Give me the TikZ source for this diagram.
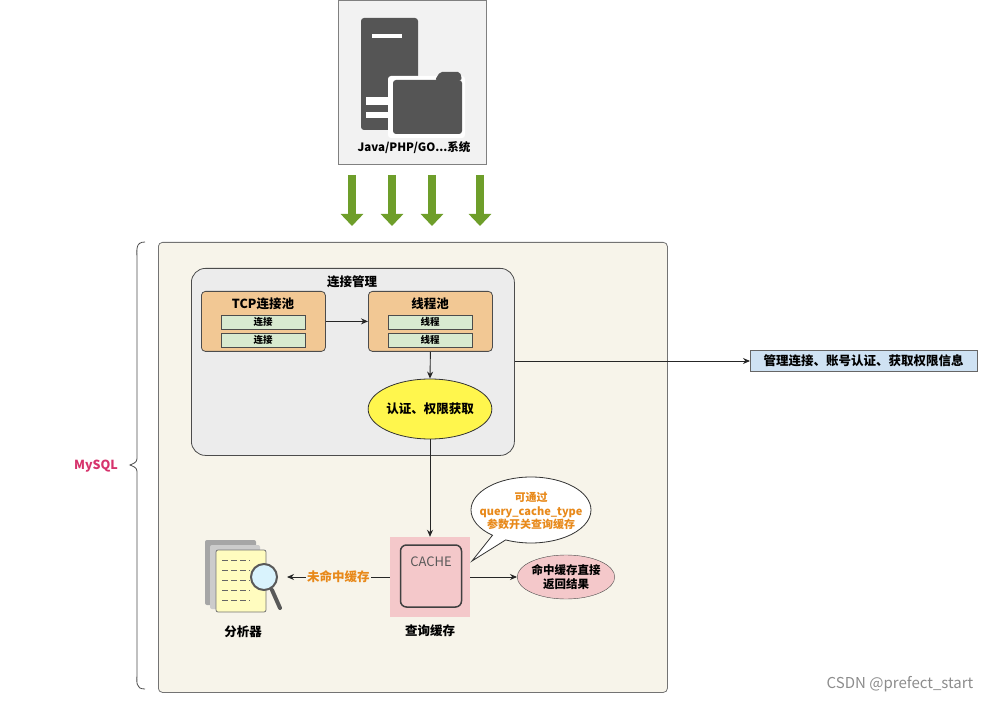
\documentclass[tikz,border=0pt]{standalone}
\usepackage{fontspec}
\setmainfont{Noto Sans CJK SC}
\usetikzlibrary{shapes.geometric,shapes.callouts,arrows.meta}
\definecolor{cream}{HTML}{F7F4EA}
\definecolor{grayin}{HTML}{ECECEC}
\definecolor{orangebox}{HTML}{F2C894}
\definecolor{greenin}{HTML}{D8EAD0}
\definecolor{arrgreen}{HTML}{6E9E2A}
\definecolor{pinkc}{HTML}{F4C8CA}
\definecolor{icon}{HTML}{555555}
\definecolor{lblue}{HTML}{CFE2F3}
\definecolor{orangetxt}{HTML}{E8891A}
\definecolor{mysql}{HTML}{D6336C}
\tikzset{
 bx/.style={draw=black!70,line width=0.8pt,rounded corners=4pt},
 t/.style={font=\bfseries\fontsize{12.5}{14}\selectfont},
 ts/.style={font=\bfseries\fontsize{9.5}{10}\selectfont},
 con/.style={-{Stealth[length=7pt,width=6pt]},line width=0.9pt,black!85},
 garr/.style={arrgreen,line width=8pt,-{Triangle[length=12pt,width=22pt]}},
}
\begin{document}
\begin{tikzpicture}[x=1pt,y=-1pt]
\useasboundingbox (0,0) rectangle (1007,703);
% top system box
\node[draw=black!50,fill=black!5,minimum width=148pt,minimum height=164pt,anchor=north west,inner sep=0] (sys) at (338,0) {};
\fill[icon,rounded corners=3pt] (361,18) rectangle (418,130);
\fill[white] (372,34) rectangle (402,38);
\fill[white] (366,97) rectangle (395,105);
\fill[white] (366,112) rectangle (395,118);
\fill[white,rounded corners=3pt] (388,76) rectangle (465,138);
\fill[icon,rounded corners=2pt] (440,72) -- (460,72) -- (462,80) -- (435,80) -- cycle;
\fill[icon,rounded corners=3pt] (393,80) rectangle (462,134);
\node[font=\bfseries\fontsize{11.5}{13}\selectfont] (syst) at (414,148) {Java/PHP/GO...系统};
% green arrows
\foreach \x/\n in {352/a,392/b,432/c,480/d}{
 \coordinate (g\n1) at (\x,175); \coordinate (g\n2) at (\x,226);
 \draw[garr] (g\n1) -- (g\n2);}
% MySQL box
\node[draw=black!55,fill=cream,rounded corners=4pt,line width=0.8pt,minimum width=509pt,minimum height=450pt,anchor=north west,inner sep=0] (mysqlbox) at (158,242) {};
\draw[black!70,line width=0.8pt] (145,242) .. controls (135,242) and (137,250) .. (137,260) -- (137,455) .. controls (137,462) .. (130,465) .. controls (137,468) .. (137,475) -- (137,672) .. controls (137,682) and (135,689) .. (145,689);
\node[font=\bfseries\fontsize{12.5}{14}\selectfont,text=mysql] (mysql) at (96,466) {MySQL};
% connection management
\node[bx,fill=grayin,rounded corners=14pt,minimum width=323pt,minimum height=187pt,anchor=north west,inner sep=0] (cm) at (191,268) {};
\node[t] (cmt) at (352,282) {连接管理};
\node[bx,fill=orangebox,minimum width=124pt,minimum height=60pt,anchor=north west,inner sep=0] (tcp) at (201,291) {};
\node[t] at (263,304) {TCP连接池};
\node[draw=black!70,fill=greenin,minimum width=84pt,minimum height=14pt,inner sep=0,ts] (c1) at (263,322) {连接};
\node[draw=black!70,fill=greenin,minimum width=84pt,minimum height=14pt,inner sep=0,ts] (c2) at (263,340) {连接};
\node[bx,fill=orangebox,minimum width=124pt,minimum height=60pt,anchor=north west,inner sep=0] (thr) at (368,291) {};
\node[t] at (430,304) {线程池};
\node[draw=black!70,fill=greenin,minimum width=84pt,minimum height=14pt,inner sep=0,ts] (t1) at (430,322) {线程};
\node[draw=black!70,fill=greenin,minimum width=84pt,minimum height=14pt,inner sep=0,ts] (t2) at (430,340) {线程};
\draw[con] (tcp.east) -- (thr.west);
\node[ellipse,draw=black!80,line width=0.8pt,fill=yellow!70!white,minimum width=96pt,minimum height=60pt,inner sep=0,t] (auth) at (430,409) {认证、权限获取};
\draw[con] (thr.south) -- (auth.north);
\node[draw=black!60,fill=lblue,minimum width=227pt,minimum height=21pt,inner sep=0,t,anchor=west] (info) at (750,361) {管理连接、账号认证、获取权限信息};
\draw[con] (cm.east |- info) -- (info.west);
% cache
\node[fill=pinkc,minimum width=80pt,minimum height=80pt,inner sep=0] (cache) at (430,577) {};
\node[draw=black!75,line width=1.5pt,rounded corners=6pt,minimum width=61pt,minimum height=62pt,inner sep=0] (cin) at (431,576) {};
\node[font=\fontsize{13}{15}\selectfont,text=black!65] at (431,562) {CACHE};
\node[t] (cachel) at (430,631) {查询缓存};
\draw[con] (auth.south) -- (cache.north);
% hit
\node[ellipse,draw=black!70,fill=pinkc,minimum width=92pt,minimum height=44pt,inner sep=0,align=center,font=\bfseries\fontsize{11.5}{14}\selectfont] (hit) at (566,577) {命中缓存直接\\返回结果};
\draw[con] (cache.east) -- (hit.west);
% callout
\node[ellipse callout,draw=black!80,line width=0.8pt,fill=white,minimum width=120pt,minimum height=66pt,inner sep=0,callout absolute pointer={(472,561)}] (bub) at (531,510) {};
\node[align=center,text=orangetxt,font=\bfseries\fontsize{11}{13.5}\selectfont,inner sep=0] (bubt) at (531,511) {可通过\\query\_cache\_type\\参数开关查询缓存};
% analyzer icon
\fill[black!35,rounded corners=2pt] (205,540) rectangle (256,605);
\fill[black!20,rounded corners=2pt] (210,545) rectangle (260,609);
\draw[black!55,fill=yellow!25!white,rounded corners=2pt,line width=0.8pt] (216,550) rectangle (266,612);
\foreach \yy in {560,570,580,590,600}{\draw[black!60,line width=1pt,dash pattern=on 6pt off 3pt] (222,\yy) -- (250,\yy);}
\draw[black!65,line width=4pt,line cap=round] (272,590) -- (280,608);
\node[circle,draw=black!65,line width=2pt,fill=cyan!15,minimum size=26pt,inner sep=0] (lens) at (264,577) {};
\node[t] (anl) at (243,632) {分析器};
\coordinate (anr) at (287,577);
\draw[con] (cache.west) -- node[fill=cream,inner sep=1pt,text=orangetxt,t]{未命中缓存} (anr);
% watermark
\node[font=\fontsize{15}{17}\selectfont,text=black!45] (wm) at (900,684) {CSDN @prefect\_start};
\end{tikzpicture}
\end{document}
